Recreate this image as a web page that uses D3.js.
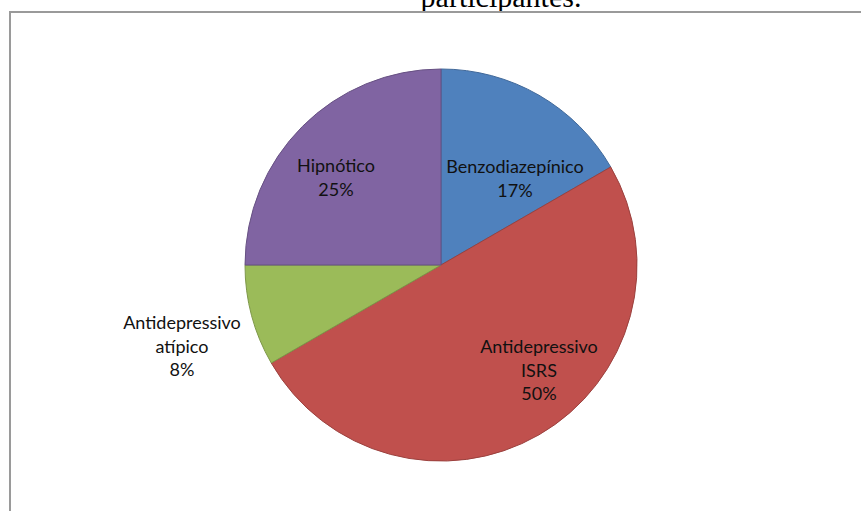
<!DOCTYPE html>
<html>
<head>
<meta charset="utf-8">
<script src="https://cdn.jsdelivr.net/npm/d3@7"></script>
<style>
  body { margin: 0; background: #fff; }
  svg { display: block; }
</style>
</head>
<body>
<div id="chart"></div>
<script>
// data
const categories = ['Benzodiazepínico', 'Antidepressivo ISRS', 'Antidepressivo atípico', 'Hipnótico']
const values = [2, 6, 1, 3]
const labelLines = [['Benzodiazepínico'], ['Antidepressivo', 'ISRS'], ['Antidepressivo', 'atípico'], ['Hipnótico']]
const colors = ['#4F81BD', '#C0504D', '#9BBB59', '#8064A2']

const width = 861
const height = 511
const cx = 441, cy = 265, radius = 196

// where the text block of each label sits (x centre, y of first baseline)
const labelAt = [[515, 173], [539, 353], [182, 329], [336, 172]]
const lineH = 23.5

var svg = d3.select('#chart')
  .append('svg')
  .attr('width', width)
  .attr('height', height)

svg.append('text')
  .attr('x', 501)
  .attr('y', 7)
  .attr('text-anchor', 'middle')
  .attr('font-family', '"Liberation Serif", "Times New Roman", serif')
  .attr('font-size', 30)
  .attr('fill', '#000')
  .text('participantes.')

svg.append('rect')
  .attr('x', 10)
  .attr('y', 12)
  .attr('width', 900)
  .attr('height', 600)
  .attr('fill', 'none')
  .attr('stroke', '#9a9a9a')
  .attr('stroke-width', 2)

var total = d3.sum(values)
var pie = d3.pie().sort(null).value(d => d)
var arc = d3.arc().innerRadius(0).outerRadius(radius)

var g = svg.append('g')
  .attr('transform', 'translate(' + cx + ',' + cy + ')')

g.selectAll('.slice')
  .data(pie(values))
  .enter()
  .append('path')
  .attr('class', 'slice')
  .attr('d', arc)
  .attr('fill', (d, i) => colors[i])
  .attr('stroke', (d, i) => d3.color(colors[i]).darker(0.6))
  .attr('stroke-width', 1)

var labels = svg.selectAll('.slice-label')
  .data(values)
  .enter()
  .append('text')
  .attr('class', 'slice-label')
  .attr('text-anchor', 'middle')
  .attr('font-family', 'Lato, "Open Sans", sans-serif')
  .attr('font-size', 18)
  .attr('fill', '#111')

labels.each(function(v, i) {
  var lines = labelLines[i].concat([Math.round(v / total * 100) + '%'])
  var t = d3.select(this)
  lines.forEach(function(s, k) {
    t.append('tspan')
      .attr('x', labelAt[i][0])
      .attr('y', labelAt[i][1] + k * lineH)
      .text(s)
  })
})
</script>
</body>
</html>
